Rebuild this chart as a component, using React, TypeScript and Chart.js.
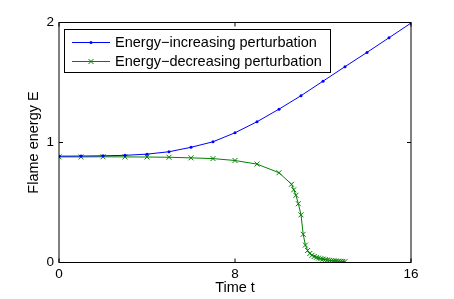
import React, { useEffect, useRef } from "react";
import { Chart, registerables } from "chart.js";

Chart.register(...registerables);

const timeInc = [0, 1, 2, 3, 4, 5, 6, 7, 8, 9, 10, 11, 12, 13, 14, 15, 16];
const energyInc = [0.886, 0.887, 0.889, 0.893, 0.903, 0.923, 0.96, 1.006, 1.081, 1.173, 1.278, 1.39, 1.511, 1.632, 1.751, 1.873, 1.995];

const timeDec = [0, 1, 2, 3, 4, 5, 6, 7, 8, 9, 10, 10.57, 10.67, 10.77, 10.88, 11.0, 11.1, 11.2, 11.3, 11.4, 11.5, 11.6, 11.7, 11.8, 11.9, 12.0, 12.1, 12.2, 12.3, 12.4, 12.5, 12.6, 12.7, 12.8, 12.9, 13.0];
const energyDec = [0.88, 0.88, 0.881, 0.88, 0.879, 0.877, 0.872, 0.866, 0.85, 0.82, 0.748, 0.652, 0.606, 0.56, 0.49, 0.397, 0.235, 0.145, 0.1, 0.075, 0.06, 0.05, 0.043, 0.037, 0.032, 0.028, 0.024, 0.021, 0.018, 0.016, 0.014, 0.012, 0.011, 0.01, 0.009, 0.008];

const xTicks = [0, 8, 16];
const yTicks = [0, 1, 2];

const labelInc = "Energy\u2212increasing perturbation";
const labelDec = "Energy\u2212decreasing perturbation";
const xTitle = "Time t";
const yTitle = "Flame energy E";

const FONT = "'Liberation Sans', Arial, Helvetica, sans-serif";

const boxPlugin = {
  id: "matlabBox",
  afterDatasetsDraw(chart: any) {
    const { ctx, chartArea: a, scales } = chart;
    const xs = scales.x;
    const ys = scales.y;
    ctx.save();
    ctx.strokeStyle = "#000";
    ctx.lineWidth = 1;
    ctx.strokeRect(a.left, a.top, a.right - a.left, a.bottom - a.top);
    const tl = 4;
    ctx.beginPath();
    xTicks.forEach((v) => {
      const px = xs.getPixelForValue(v);
      ctx.moveTo(px, a.bottom);
      ctx.lineTo(px, a.bottom - tl);
      ctx.moveTo(px, a.top);
      ctx.lineTo(px, a.top + tl);
    });
    yTicks.forEach((v) => {
      const py = ys.getPixelForValue(v);
      ctx.moveTo(a.left, py);
      ctx.lineTo(a.left + tl, py);
      ctx.moveTo(a.right, py);
      ctx.lineTo(a.right - tl, py);
    });
    ctx.stroke();

    // legend
    const lx = 64.5, ly = 29.5, lw = 266, lh = 43;
    ctx.fillStyle = "#fff";
    ctx.fillRect(lx, ly, lw, lh);
    ctx.strokeStyle = "#000";
    ctx.strokeRect(lx, ly, lw, lh);
    const rows = [42.5, 61.5];
    chart.data.datasets.forEach((ds: any, i: number) => {
      const y = rows[i];
      ctx.strokeStyle = ds.borderColor;
      ctx.lineWidth = 1;
      ctx.beginPath();
      ctx.moveTo(72, y);
      ctx.lineTo(110, y);
      ctx.stroke();
      const cx = 91;
      if (ds.pointStyle === "crossRot") {
        ctx.beginPath();
        ctx.moveTo(cx - 2.5, y - 2.5);
        ctx.lineTo(cx + 2.5, y + 2.5);
        ctx.moveTo(cx + 2.5, y - 2.5);
        ctx.lineTo(cx - 2.5, y + 2.5);
        ctx.stroke();
      } else {
        ctx.fillStyle = ds.borderColor;
        ctx.beginPath();
        ctx.arc(cx, y, 1.5, 0, Math.PI * 2);
        ctx.fill();
      }
      ctx.fillStyle = "#000";
      ctx.font = `14.5px ${FONT}`;
      ctx.textBaseline = "middle";
      ctx.textAlign = "left";
      ctx.fillText(ds.label, 115, y);
    });
    ctx.restore();
  },
};

export default function App() {
  const ref = useRef<HTMLCanvasElement | null>(null);
  useEffect(() => {
    if (!ref.current) return;
    const chart = new Chart(ref.current, {
      type: "line",
      data: {
        datasets: [
          {
            label: labelInc,
            data: timeInc.map((t, i) => ({ x: t, y: energyInc[i] })),
            borderColor: "#0000ff",
            backgroundColor: "#0000ff",
            borderWidth: 1,
            pointStyle: "circle",
            pointRadius: 1.5,
            pointBorderWidth: 0,
            tension: 0,
          },
          {
            label: labelDec,
            data: timeDec.map((t, i) => ({ x: t, y: energyDec[i] })),
            borderColor: "#008000",
            backgroundColor: "#008000",
            borderWidth: 1,
            pointStyle: "crossRot",
            pointRadius: 3.5,
            pointBorderWidth: 1,
            tension: 0,
          },
        ],
      },
      options: {
        animation: false,
        responsive: false,
        devicePixelRatio: 1,
        layout: { padding: { left: 25, top: 22.5, right: 43, bottom: 2 } },
        plugins: { legend: { display: false }, tooltip: { enabled: false } },
        scales: {
          x: {
            type: "linear",
            min: 0,
            max: 16,
            afterBuildTicks: (s: any) => {
              s.ticks = xTicks.map((v) => ({ value: v }));
            },
            afterFit: (s: any) => {
              s.height = 34.5;
            },
            grid: { display: false, drawTicks: false },
            border: { display: false },
            ticks: { color: "#000", font: { family: FONT, size: 13.5 }, padding: 4, maxRotation: 0 },
            title: { display: true, text: xTitle, color: "#000", font: { family: FONT, size: 14.5 }, padding: 0 },
          },
          y: {
            type: "linear",
            min: 0,
            max: 2,
            afterBuildTicks: (s: any) => {
              s.ticks = yTicks.map((v) => ({ value: v }));
            },
            afterFit: (s: any) => {
              s.width = 34;
            },
            grid: { display: false, drawTicks: false },
            border: { display: false },
            ticks: { color: "#000", font: { family: FONT, size: 13.5 }, padding: 5 },
            title: { display: true, text: yTitle, color: "#000", font: { family: FONT, size: 14.5 }, padding: 0 },
          },
        },
      },
      plugins: [boxPlugin],
    } as any);
    return () => chart.destroy();
  }, []);
  return (
    <div style={{ position: "absolute", left: 0, top: 0, width: 454, height: 299, background: "#fff" }}>
      <canvas ref={ref} width={454} height={299} style={{ width: 454, height: 299 }} />
    </div>
  );
}
